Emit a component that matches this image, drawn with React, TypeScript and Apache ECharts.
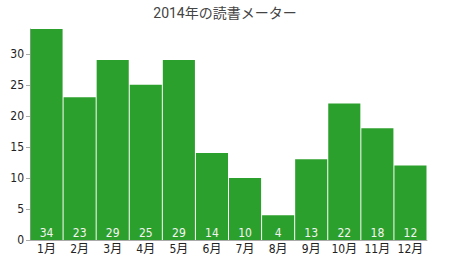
import React, { useEffect, useRef } from "react";
import * as echarts from "echarts";

const months = ["1月", "2月", "3月", "4月", "5月", "6月", "7月", "8月", "9月", "10月", "11月", "12月"];
const books = [34, 23, 29, 25, 29, 14, 10, 4, 13, 22, 18, 12];
const titleText = "2014年の読書メーター";

const narrow = "'Liberation Sans Narrow', 'DejaVu Sans Condensed', Roboto, 'Noto Sans CJK JP'";

export default function App() {
  const ref = useRef<HTMLDivElement>(null);
  useEffect(() => {
    if (!ref.current) return;
    const chart = echarts.init(ref.current, null, { renderer: "svg" });
    chart.setOption({
      animation: false,
      title: {
        text: titleText,
        left: "center",
        top: 1,
        textStyle: { fontSize: 14, fontWeight: "normal", color: "#444", fontFamily: "Roboto, 'Noto Sans CJK JP'" },
      },
      grid: { left: 30, right: 23, top: 29, bottom: 30 },
      xAxis: {
        type: "category",
        data: months,
        axisLine: { lineStyle: { color: "#aaa" } },
        axisTick: { show: false },
        axisLabel: { interval: 0, color: "#222", fontSize: 12, margin: 3, fontFamily: narrow },
      },
      yAxis: {
        type: "value",
        min: 0,
        max: 34,
        interval: 5,
        axisLine: { show: true, lineStyle: { color: "#aaa" } },
        axisTick: { show: true, length: 4, lineStyle: { color: "#aaa" } },
        splitLine: { show: false },
        axisLabel: { showMaxLabel: false, color: "#222", fontSize: 12, margin: 6, fontFamily: narrow },
      },
      series: [
        {
          type: "bar",
          data: books,
          barCategoryGap: "3%",
          itemStyle: { color: "#2ca02c" },
          label: {
            show: true,
            position: "insideBottom",
            distance: 1,
            color: "#f4f4f4",
            fontSize: 12,
            fontFamily: narrow,
          },
        },
      ],
    });
    return () => chart.dispose();
  }, []);
  return <div ref={ref} style={{ width: 450, height: 270, position: "absolute", left: 0, top: 0 }} />;
}
